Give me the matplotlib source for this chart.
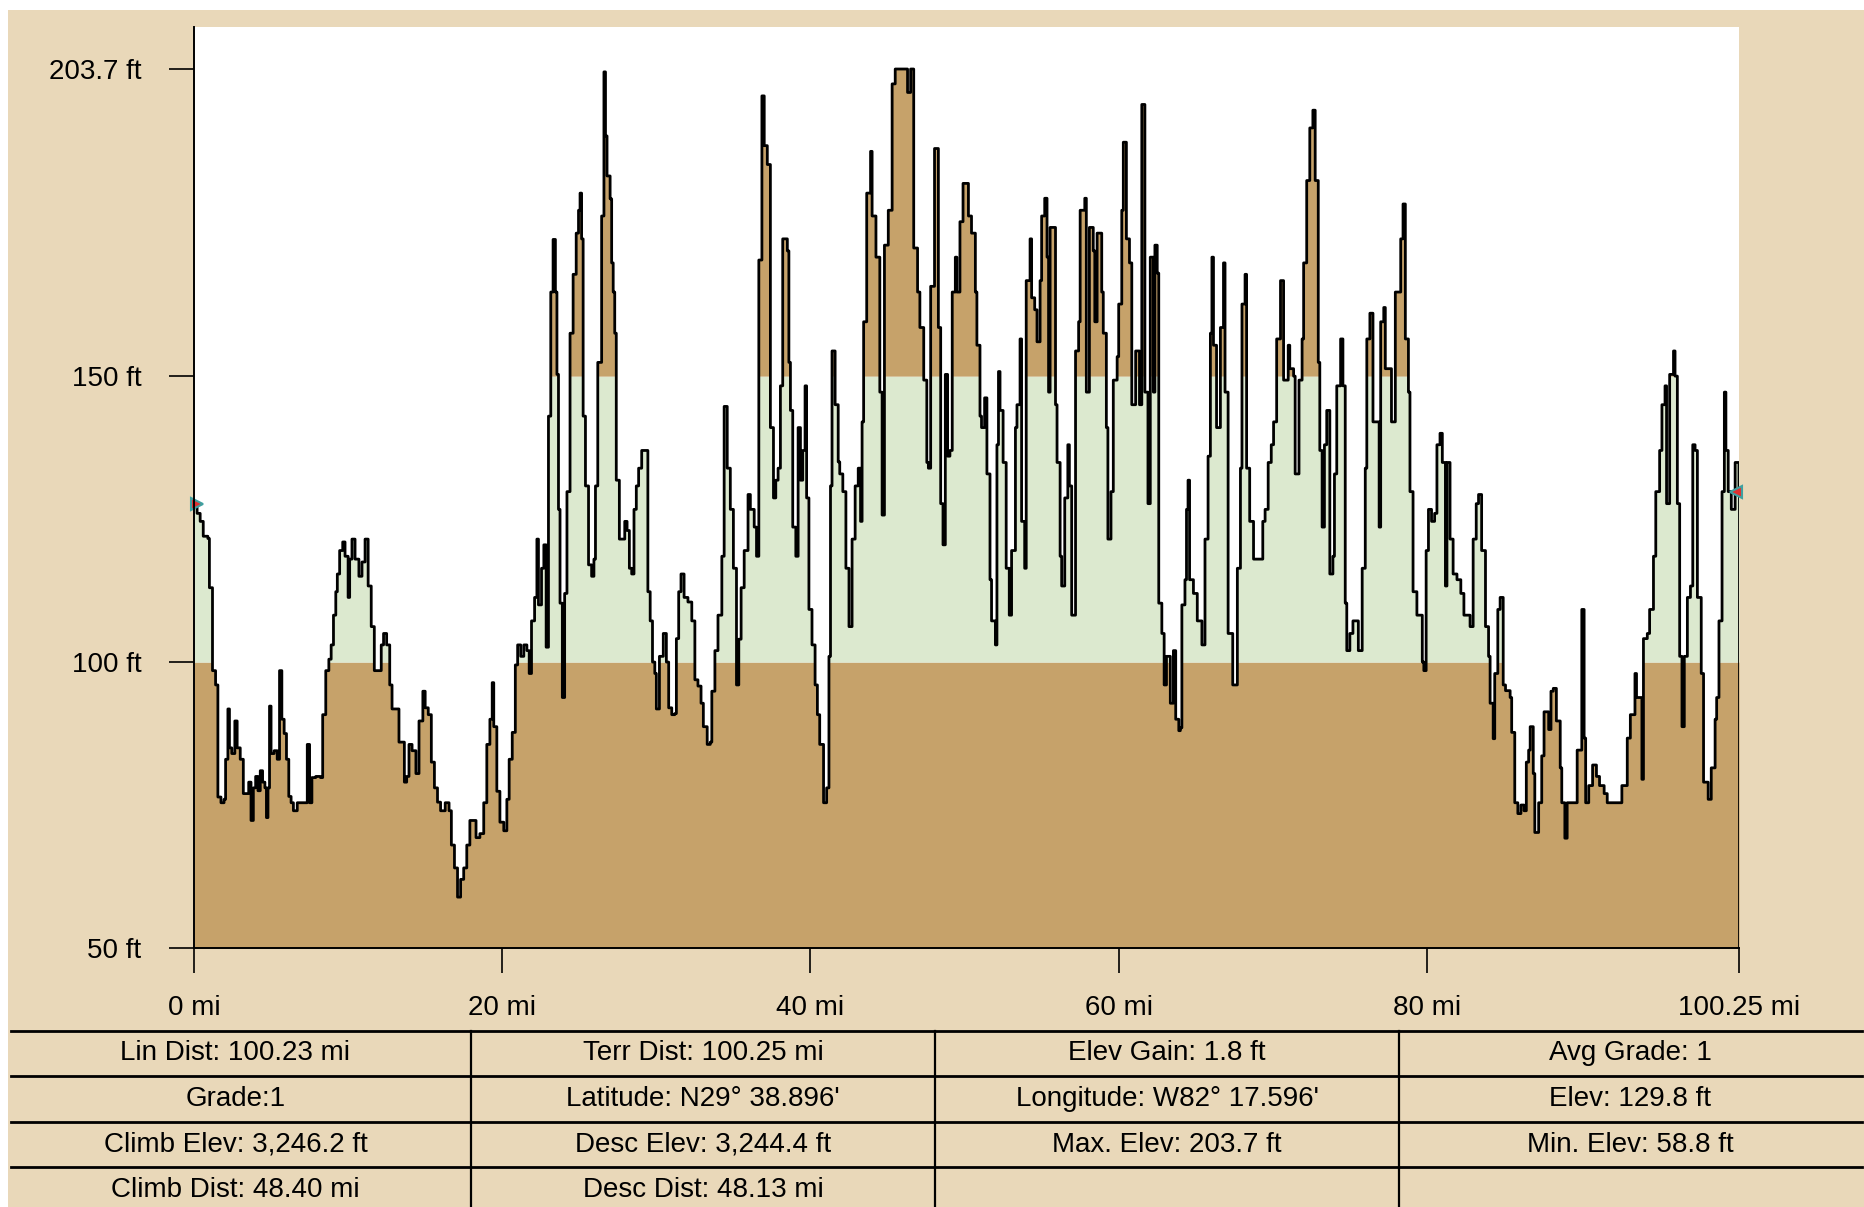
import numpy as np
import matplotlib.pyplot as plt
from matplotlib.patches import Rectangle
from matplotlib.lines import Line2D

# Perfil de elevacion (millas, pies)
dist_mi = [
    0.0, 0.2, 0.4, 0.6, 0.9, 1.0, 1.2, 1.4, 1.55, 1.75, 1.95, 2.05, 2.2, 2.3, 2.45, 2.65, 2.8, 3.0,
    3.2, 3.4, 3.55, 3.7, 3.85, 4.0, 4.15, 4.3, 4.45, 4.6, 4.7, 4.8, 4.9, 5.0, 5.2, 5.4, 5.55, 5.7,
    5.85, 6.0, 6.15, 6.3, 6.45, 6.7, 7.0, 7.2, 7.35, 7.5, 7.65, 7.9, 8.2, 8.35, 8.55, 8.75, 8.9,
    9.05, 9.2, 9.3, 9.45, 9.65, 9.8, 10.0, 10.1, 10.25, 10.45, 10.7, 10.9, 11.1, 11.3, 11.5, 11.7,
    11.95, 12.15, 12.3, 12.5, 12.7, 12.85, 13.1, 13.3, 13.45, 13.65, 13.8, 13.95, 14.15, 14.4, 14.6,
    14.85, 15.0, 15.2, 15.4, 15.6, 15.8, 16.0, 16.3, 16.55, 16.7, 16.9, 17.1, 17.3, 17.5, 17.7, 17.9,
    18.1, 18.3, 18.55, 18.8, 19.0, 19.2, 19.35, 19.45, 19.65, 19.85, 20.1, 20.3, 20.45, 20.65, 20.85,
    21.0, 21.2, 21.4, 21.6, 21.75, 21.9, 22.1, 22.25, 22.35, 22.55, 22.7, 22.85, 23.0, 23.15, 23.3,
    23.45, 23.55, 23.65, 23.75, 23.9, 24.05, 24.2, 24.4, 24.6, 24.8, 24.95, 25.05, 25.15, 25.25,
    25.4, 25.6, 25.8, 25.95, 26.05, 26.2, 26.45, 26.6, 26.7, 26.8, 27.0, 27.1, 27.2, 27.3, 27.4,
    27.6, 27.75, 27.95, 28.1, 28.25, 28.4, 28.55, 28.7, 28.85, 29.05, 29.35, 29.45, 29.6, 29.75,
    29.9, 30.0, 30.2, 30.45, 30.65, 30.8, 31.0, 31.2, 31.3, 31.45, 31.6, 31.8, 32.05, 32.3, 32.5,
    32.7, 32.9, 33.05, 33.3, 33.5, 33.6, 33.8, 34.0, 34.25, 34.4, 34.6, 34.8, 35.0, 35.2, 35.35,
    35.5, 35.7, 35.95, 36.1, 36.35, 36.5, 36.65, 36.85, 37.0, 37.2, 37.4, 37.6, 37.75, 37.9, 38.05,
    38.2, 38.35, 38.5, 38.6, 38.7, 38.85, 39.05, 39.2, 39.35, 39.5, 39.65, 39.75, 39.9, 40.1, 40.3,
    40.45, 40.6, 40.85, 41.05, 41.2, 41.3, 41.4, 41.6, 41.8, 41.9, 42.1, 42.3, 42.5, 42.7, 42.9,
    43.1, 43.25, 43.35, 43.45, 43.65, 43.9, 44.0, 44.25, 44.5, 44.65, 44.8, 45.05, 45.3, 45.5, 45.8,
    46.1, 46.3, 46.5, 46.7, 46.95, 47.1, 47.35, 47.55, 47.65, 47.8, 48.05, 48.3, 48.45, 48.6, 48.75,
    48.9, 49.05, 49.2, 49.4, 49.5, 49.7, 49.9, 50.1, 50.25, 50.45, 50.6, 50.7, 50.8, 51.0, 51.1,
    51.3, 51.45, 51.65, 51.75, 52.0, 52.1, 52.2, 52.3, 52.5, 52.7, 52.9, 53.05, 53.3, 53.4, 53.6,
    53.7, 53.9, 54.0, 54.25, 54.35, 54.55, 54.7, 54.9, 55.0, 55.2, 55.35, 55.45, 55.55, 55.9, 56.0,
    56.2, 56.3, 56.5, 56.7, 56.8, 56.95, 57.2, 57.4, 57.5, 57.8, 57.9, 58.1, 58.35, 58.45, 58.6,
    58.9, 59.0, 59.2, 59.3, 59.5, 59.65, 59.9, 60.0, 60.2, 60.3, 60.5, 60.7, 60.85, 61.1, 61.35,
    61.5, 61.7, 61.9, 62.05, 62.25, 62.35, 62.5, 62.6, 62.8, 62.95, 63.1, 63.35, 63.55, 63.7, 63.9,
    64.0, 64.1, 64.3, 64.4, 64.5, 64.6, 64.85, 65.1, 65.4, 65.6, 65.8, 65.95, 66.05, 66.15, 66.35,
    66.6, 66.8, 66.9, 67.1, 67.4, 67.7, 67.9, 68.0, 68.2, 68.3, 68.5, 68.75, 69.2, 69.35, 69.5,
    69.7, 69.9, 70.05, 70.25, 70.5, 70.7, 71.0, 71.1, 71.35, 71.45, 71.7, 71.9, 72.0, 72.2, 72.4,
    72.6, 72.75, 72.95, 73.05, 73.2, 73.35, 73.5, 73.7, 73.9, 74.0, 74.15, 74.4, 74.55, 74.7, 74.8,
    75.0, 75.2, 75.55, 75.8, 76.0, 76.1, 76.3, 76.5, 76.9, 77.0, 77.2, 77.3, 77.7, 77.95, 78.3,
    78.45, 78.6, 78.8, 78.9, 79.1, 79.35, 79.7, 79.8, 79.95, 80.1, 80.3, 80.5, 80.65, 80.85, 81.0,
    81.2, 81.3, 81.5, 81.7, 81.95, 82.2, 82.4, 82.8, 83.0, 83.2, 83.35, 83.55, 83.8, 84.0, 84.1,
    84.3, 84.4, 84.6, 84.75, 84.95, 85.1, 85.4, 85.5, 85.7, 85.9, 86.1, 86.3, 86.45, 86.6, 86.7,
    86.9, 87.0, 87.25, 87.45, 87.6, 87.9, 88.05, 88.2, 88.4, 88.65, 88.75, 88.95, 89.1, 89.6, 89.75,
    89.95, 90.05, 90.2, 90.3, 90.5, 90.75, 91.0, 91.2, 91.5, 91.7, 92.0, 92.5, 92.65, 93.0, 93.2,
    93.5, 93.6, 93.95, 94.05, 94.3, 94.45, 94.7, 94.85, 95.1, 95.25, 95.45, 95.55, 95.75, 96.0, 96.1,
    96.25, 96.4, 96.55, 96.7, 96.9, 97.1, 97.25, 97.4, 97.55, 97.8, 97.95, 98.25, 98.45, 98.7, 98.8,
    98.95, 99.15, 99.3, 99.4, 99.55, 99.75, 100.0, 100.25,
]
elev_ft = [
    127.7, 126, 124.6, 122, 121.6, 113, 98.5, 96, 76.4, 75.4, 76, 83, 91.8, 85, 84, 89.7, 85, 83,
    77, 77, 79, 72.3, 78, 80, 77.5, 81, 79, 78, 72.8, 78, 92.3, 84, 84.5, 83, 98.5, 90,
    87.5, 83, 76.5, 75.4, 74, 75.4, 75.4, 75.4, 85.6, 75.4, 79.8, 80, 79.8, 90.8, 98.5, 100.5, 103,
    108.2, 112.3, 115.4, 119.5, 121, 118.5, 111.3, 118, 121.5, 118, 115, 117.5, 121.5, 113.3, 106.2, 98.5,
    98.5, 103, 105, 103, 96, 91.8, 91.8, 86, 86, 79, 80, 85.6, 84.5, 80.5, 89.7,
    94.9, 92, 90.8, 82.5, 78, 75.5, 74, 75.4, 74, 68, 64, 58.9, 62, 64, 68, 72.3,
    72.3, 69.3, 70, 75.4, 85.6, 90, 96.4, 88.7, 77.4, 72, 70.5, 76, 83, 87.7, 99.5,
    103, 101, 103, 102, 98, 107.2, 111.3, 121.5, 110, 116.4, 120.5, 102.6, 143, 164.7, 173.9,
    164.7, 150.3, 126.7, 110.3, 93.8, 112, 129.8, 157.5, 167.8, 175, 179, 182, 174, 143,
    130.8, 117, 115, 118, 130.8, 152.4, 178, 203.2, 192, 185, 181, 169.8, 164.7, 157.5, 131.8,
    121.5, 121.5, 124.6, 123, 116.4, 115.4, 126.7, 130.8, 133.9, 137, 137, 112.3, 107.2, 100,
    98, 91.8, 101, 105, 100, 92, 90.8, 91, 104.1, 112.3, 115.4, 111.3, 110.5, 107.2, 96.9,
    95.8, 92.8, 88.7, 85.6, 86, 94.9, 102, 108.2, 118.5, 144.7, 133.9, 126.7, 116.4, 96, 104,
    113, 119.5, 129.3, 126.7, 123.6, 118.5, 170.3, 199, 190.3, 187, 141, 128.7, 131.8, 133.9, 148.3,
    174, 174, 171.9, 152.4, 144, 123.6, 118.5, 141, 131.8, 137, 148.3, 128.7, 109.2, 103, 96,
    90.8, 85.6, 75.4, 78, 101, 130.8, 154.4, 145, 135, 132.9, 129.8, 116.4, 106.2, 121.5, 130.8,
    133.9, 124.6, 142, 159.5, 182, 189.3, 178, 170.8, 147.2, 125.7, 172.9, 179, 201.1, 203.7, 203.7,
    203.7, 199.6, 203.7, 172.4, 164.7, 158.5, 149.3, 134.9, 133.9, 165.7, 189.8, 158.5, 127.7, 120.5, 150.3,
    136, 137, 164.7, 170.8, 164.7, 177, 183.7, 183.7, 178, 175, 175, 164.7, 155.4, 143, 141,
    146.2, 132.9, 114.4, 107.2, 103, 138, 150.8, 144, 134.9, 116.4, 108.2, 119.5, 141, 145, 156.5,
    124.6, 116.4, 166.7, 174, 163.7, 161.6, 156, 166.7, 178, 181.1, 170.8, 147.2, 176, 145, 134.9,
    118.5, 113.3, 128.7, 138, 130.8, 108.2, 154.4, 159.5, 179, 181.1, 147.2, 176, 171.9, 159.5, 175,
    164.7, 157.5, 141, 121.5, 129.8, 149.3, 153.4, 162.6, 179, 190.9, 174, 169.8, 145, 154.4, 145,
    197.5, 147.2, 127.7, 170.8, 147.2, 172.9, 168, 110.3, 105, 96, 101, 92.8, 102, 90, 88,
    88.5, 110, 114.4, 126.7, 131.8, 114.4, 112, 107.2, 103, 121.5, 136, 157.5, 170.8, 155.4, 141,
    158.5, 169.8, 147.2, 105, 96, 116.4, 133.9, 162.6, 167.8, 133.9, 124.6, 118, 118, 124.6, 126.7,
    134.9, 138, 142, 156.5, 166.7, 149.3, 155.4, 151.3, 150, 132.9, 149.3, 156.5, 169.8, 184.2, 193.4,
    196.5, 184.2, 152.4, 137, 123.6, 138, 144, 115.4, 118.5, 132.9, 148.3, 156.5, 148.3, 110.3, 102,
    105, 107.2, 102, 116.4, 133.9, 156.5, 161, 142, 123.6, 159.5, 162, 151.3, 142, 164.7, 174,
    180.1, 156.5, 147.2, 129.8, 112.3, 108.2, 100, 98.5, 119.5, 126.7, 124.6, 126, 138, 140, 134.9,
    113.3, 134.9, 121.5, 115.4, 114.4, 112, 108.2, 106.2, 121.5, 127.7, 129.3, 119.5, 106.2, 101, 92.8,
    86.6, 98, 109.2, 111.3, 96, 95, 93.8, 87.7, 75.4, 73.5, 75, 74, 82.5, 84.6, 88.7,
    80.5, 70.2, 75.4, 83.6, 91.3, 88.2, 94.9, 95.4, 89.7, 81.5, 75.4, 69.2, 75.4, 75.4, 84.6,
    84.6, 109.2, 86.7, 75.4, 78.4, 82, 80, 78.4, 77, 75.4, 75.4, 75.4, 78.4, 86.7, 90.8,
    98, 93.8, 79.5, 104.1, 105, 109.2, 118.5, 129.8, 137, 145, 148.3, 127.7, 150.3, 154.4, 150,
    127.7, 101, 88.7, 101, 111.3, 113.3, 138, 137, 111.3, 98, 79, 76, 81.5, 90, 93.8,
    107.2, 129.8, 147.2, 137, 129.8, 126.7, 134.9, 129.8,
]

y_ticks = [50, 100, 150, 203.7]
y_labels = ['50 ft', '100 ft', '150 ft', '203.7 ft']
x_ticks = [0, 20, 40, 60, 80, 100.25]
x_labels = ['0 mi', '20 mi', '40 mi', '60 mi', '80 mi', '100.25 mi']

tabla = [
    ['Lin Dist: 100.23 mi', 'Terr Dist: 100.25 mi', 'Elev Gain: 1.8 ft', 'Avg Grade: 1'],
    ['Grade:1', "Latitude: N29\u00b0 38.896'", "Longitude: W82\u00b0 17.596'", 'Elev: 129.8 ft'],
    ['Climb Elev: 3,246.2 ft', 'Desc Elev: 3,244.4 ft', 'Max. Elev: 203.7 ft', 'Min. Elev: 58.8 ft'],
    ['Climb Dist: 48.40 mi', 'Desc Dist: 48.13 mi', '', ''],
]

beige = '#E9D8B9'
cafe = '#C6A26A'
verde = '#DCE9CF'

W, H = 1865, 1207
plt.rcParams['font.family'] = ['Liberation Sans', 'DejaVu Sans']
fig = plt.figure(figsize=(W / 100, H / 100), dpi=100, facecolor='white')

def fx(px):
    return px / W

def fy(py):
    return 1 - py / H

fondo = Rectangle((fx(8), 0), 1 - fx(8), fy(10), transform=fig.transFigure,
                  facecolor=beige, edgecolor='none', zorder=-10)
fig.patches.append(fondo)

ax = fig.add_axes([fx(194), fy(948), fx(1739) - fx(194), fy(26.7) - fy(948)])
ax.set_facecolor('white')

x = np.array(dist_mi)
y = np.array(elev_ft)

# Bandas de color: <100 cafe, 100-150 verde, >150 cafe
ax.fill_between(x, 50, np.minimum(y, 100), step='post', color=cafe, lw=0)
ax.fill_between(x, 100, np.clip(y, 100, 150), step='post', color=verde, lw=0)
ax.fill_between(x, 150, np.maximum(y, 150), step='post', color=cafe, lw=0)
ax.plot(x, y, color='black', lw=2.0, drawstyle='steps-post')
ax.plot([x[-1], x[-1]], [50, y[-1]], color='black', lw=2.0)

ax.plot(x[0] + 0.2, y[0], marker='>', ms=8, mfc='#E03030', mec='#40A0A0', mew=1.5, clip_on=False)
ax.plot(x[-1] - 0.2, y[-1], marker='<', ms=8, mfc='#E03030', mec='#40A0A0', mew=1.5, clip_on=False)

ax.set_xlim(0, 100.25)
ax.set_ylim(50, 211.1)
ax.set_yticks(y_ticks)
ax.set_yticklabels(y_labels)
ax.set_xticks(x_ticks)
ax.set_xticklabels(x_labels)
ax.tick_params(axis='y', length=18, width=1.2, pad=20, labelsize=20)
ax.tick_params(axis='x', length=18, width=1.2, pad=16, labelsize=20)
for s in ['top', 'right']:
    ax.spines[s].set_visible(False)
for s in ['left', 'bottom']:
    ax.spines[s].set_linewidth(1.4)

# Tabla de estadisticas
filas_y = [1031, 1076, 1122, 1167, 1213]
cols_x = [0, 471, 935, 1399, 1862]
for py in filas_y[:-1]:
    fig.add_artist(Line2D([fx(11), fx(1862)], [fy(py), fy(py)], color='black', lw=2.0))
for px in cols_x[1:-1]:
    fig.add_artist(Line2D([fx(px), fx(px)], [fy(1031), 0], color='black', lw=1.6))
for i, fila in enumerate(tabla):
    cy = (filas_y[i] + filas_y[i + 1]) / 2
    for j, txt in enumerate(fila):
        cx = (cols_x[j] + cols_x[j + 1]) / 2
        fig.text(fx(cx), fy(cy), txt, ha='center', va='center', fontsize=20)

plt.savefig('out.png', dpi=100, facecolor=fig.get_facecolor())
